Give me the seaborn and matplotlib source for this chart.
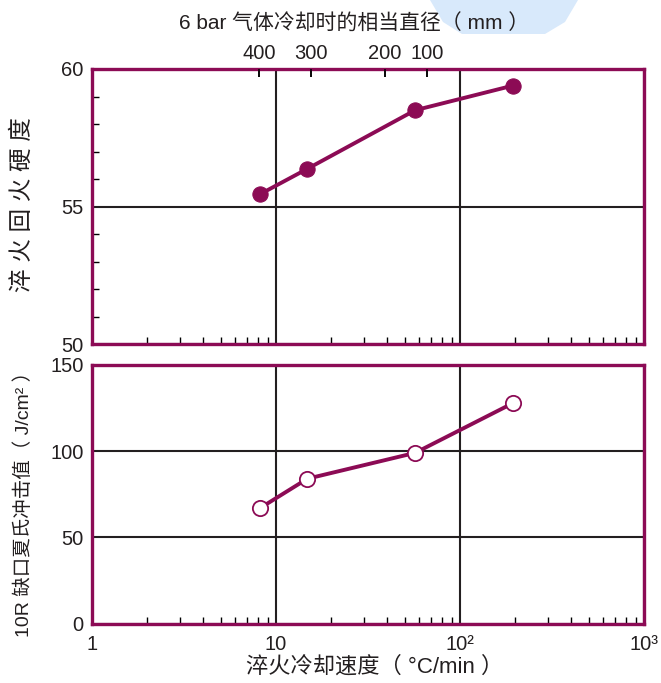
import numpy as np
import pandas as pd
import matplotlib
matplotlib.use("Agg")
import matplotlib.pyplot as plt
import matplotlib.ticker as mticker
from matplotlib.patches import Polygon
import seaborn as sns

# cooling rate (°C/min) and the two measured properties
cool_rate = [8.2, 14.8, 57, 195]
hardness = [55.45, 56.37, 58.5, 59.4]
impact = [67, 84, 99, 128]

# equivalent diameter for 6 bar gas quench (top axis)
diam_labels = ["400", "300", "200", "100"]
diam_rate = [8.1, 15.5, 39, 66]

x_ticks = [1, 10, 100, 1000]
x_tick_labels = ["1", "10", "10²", "10³"]

MAROON = "#8c0b55"
GRID = "#231f20"
TXT = "#231f20"

sns.set_style("white")
plt.rcParams["font.family"] = ["Liberation Sans", "Noto Sans CJK SC", "DejaVu Sans"]

df = pd.DataFrame({"rate": cool_rate, "hrc": hardness, "impact": impact})

fig = plt.figure(figsize=(6.61, 6.83), dpi=100)
ax1 = fig.add_axes([92 / 661, 1 - 344 / 683, 552 / 661, 275 / 683])
ax2 = fig.add_axes([92 / 661, 1 - 623.5 / 683, 552 / 661, 258.5 / 683])

# faint decorative blob at the top (from the source image)
fig.patches.append(Polygon([[430 / 661, 1.0], [578 / 661, 1.0], [565 / 661, 1 - 22 / 683],
                            [545 / 661, 1 - 34 / 683], [462 / 661, 1 - 34 / 683],
                            [443 / 661, 1 - 22 / 683]],
                           closed=True, transform=fig.transFigure,
                           facecolor="#d8e9fb", edgecolor="none", zorder=0))

sns.lineplot(data=df, x="rate", y="hrc", ax=ax1, color=MAROON, lw=2.8,
             marker="o", markersize=11, markeredgecolor=MAROON, zorder=5)
sns.lineplot(data=df, x="rate", y="impact", ax=ax2, color=MAROON, lw=2.8,
             marker="o", markersize=11, markerfacecolor="white",
             markeredgecolor=MAROON, markeredgewidth=1.3, zorder=5)

for ax in (ax1, ax2):
    ax.set_xscale("log")
    ax.set_xlim(1, 1000)
    ax.xaxis.set_minor_locator(mticker.LogLocator(base=10, subs=np.arange(2, 10)))
    ax.xaxis.set_minor_formatter(mticker.NullFormatter())
    ax.grid(True, axis="y", which="major", color=GRID, lw=1.5)
    for xv in x_ticks:
        ax.axvline(xv, color=GRID, lw=1.5, zorder=1)
    for s in ax.spines.values():
        s.set_color(MAROON)
        s.set_linewidth(2.4)
        s.set_zorder(6)
    ax.tick_params(which="major", length=0, labelsize=14.5, colors=TXT, pad=6)
    ax.tick_params(axis="x", which="minor", direction="in", length=5, width=1,
                   color="black", bottom=True, top=False)
    ax.set_xlabel("")
    ax.set_ylabel("")

# top panel: equivalent-diameter ticks along the top edge
ax1.set_ylim(50, 60)
ax1.set_yticks([50, 55, 60])
ax1.yaxis.set_minor_locator(mticker.MultipleLocator(1))
ax1.tick_params(axis="y", which="minor", direction="in", length=5, width=1,
                color="black", left=True)
ax1.set_xticks(diam_rate, diam_labels)
ax1.tick_params(axis="x", which="major", top=True, bottom=False, labeltop=True,
                labelbottom=False, direction="in", length=6, width=1.1,
                color="black", pad=4)
# tick marks for the diameter scale, drawn explicitly so they sit above the frame
ax1.vlines(diam_rate, 0.972, 1.0, transform=ax1.get_xaxis_transform(),
           color="black", lw=1.1, zorder=7)

ax2.set_ylim(0, 150)
ax2.set_yticks([0, 50, 100, 150])
ax2.set_xticks(x_ticks, x_tick_labels)
ax2.tick_params(axis="x", which="major", pad=8)

fig.text(354 / 661, 1 - 24 / 683, "6 bar 气体冷却时的相当直径（ mm ）",
         ha="center", va="center", fontsize=15, color=TXT)
fig.text(375 / 661, 1 - 667 / 683, "淬火冷却速度（ °C/min ）",
         ha="center", va="center", fontsize=16, color=TXT)
fig.text(23 / 661, 1 - 205 / 683, "淬 火 回 火 硬 度", rotation=90,
         ha="center", va="center", fontsize=17, color=TXT)
fig.text(24 / 661, 1 - 499 / 683, "10R 缺口夏氏冲击值（ J/cm² ）", rotation=90,
         ha="center", va="center", fontsize=14, color=TXT)

fig.savefig("out.png", dpi=100)
